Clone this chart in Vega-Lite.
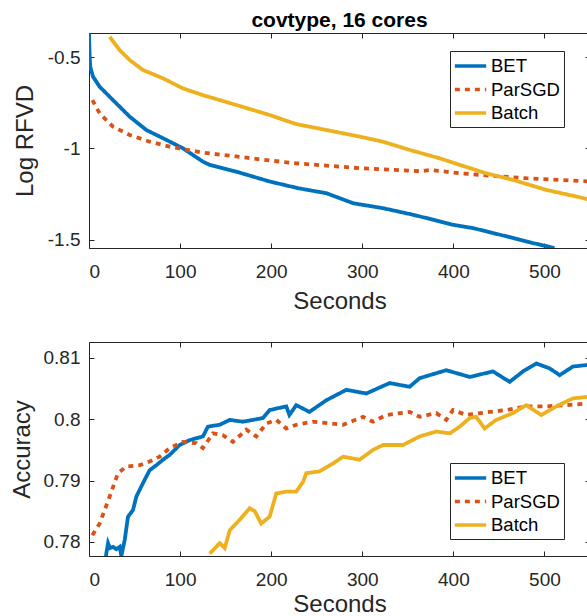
{
  "$schema": "https://vega.github.io/schema/vega-lite/v6.json",
  "padding": {"left": 9, "top": 9, "right": 0, "bottom": 0},
  "bounds": "flush",
  "spacing": 94,
  "config": {
    "font": "Liberation Sans",
    "view": {"stroke": "#262626", "strokeWidth": 1},
    "axis": {
      "grid": false, "domain": false,
      "labelFontSize": 19, "titleFontSize": 24, "titleFontWeight": "normal",
      "labelColor": "#262626", "titleColor": "#262626", "tickColor": "#262626",
      "tickSize": -5, "tickWidth": 1
    },
    "legend": {
      "orient": "none", "title": null,
      "strokeColor": "#262626", "fillColor": "white", "padding": 4,
      "symbolType": "M-1.1,0H2.3", "symbolSize": 340, "symbolStrokeWidth": 3.5,
      "labelFontSize": 18.5, "labelColor": "#000000", "labelOffset": 15, "rowPadding": 2.5
    },
    "title": {"fontSize": 21, "fontWeight": "bold", "color": "#000000", "baseline": "alphabetic", "offset": -0.8}
  },
  "datasets": {
    "top": [
      {"s": "BET", "t": 0, "v": -0.37}, {"s": "BET", "t": 0.3, "v": -0.42}, {"s": "BET", "t": 0.7, "v": -0.49}, {"s": "BET", "t": 1.4, "v": -0.553}, {"s": "BET", "t": 4.4, "v": -0.607}, {"s": "BET", "t": 11.7, "v": -0.662}, {"s": "BET", "t": 26.3, "v": -0.735}, {"s": "BET", "t": 44.7, "v": -0.826}, {"s": "BET", "t": 62.9, "v": -0.899}, {"s": "BET", "t": 81.2, "v": -0.944}, {"s": "BET", "t": 103, "v": -0.999}, {"s": "BET", "t": 125, "v": -1.072}, {"s": "BET", "t": 132.5, "v": -1.09}, {"s": "BET", "t": 161.7, "v": -1.127}, {"s": "BET", "t": 198.3, "v": -1.181}, {"s": "BET", "t": 230, "v": -1.218}, {"s": "BET", "t": 260.5, "v": -1.245}, {"s": "BET", "t": 290, "v": -1.3}, {"s": "BET", "t": 322.7, "v": -1.327}, {"s": "BET", "t": 355.7, "v": -1.363}, {"s": "BET", "t": 377.6, "v": -1.39}, {"s": "BET", "t": 399.6, "v": -1.418}, {"s": "BET", "t": 421.5, "v": -1.436}, {"s": "BET", "t": 443.5, "v": -1.463}, {"s": "BET", "t": 465.4, "v": -1.49}, {"s": "BET", "t": 487.4, "v": -1.518}, {"s": "BET", "t": 511, "v": -1.545},
      {"s": "ParSGD", "t": 3.7, "v": -0.735}, {"s": "ParSGD", "t": 11.7, "v": -0.808}, {"s": "ParSGD", "t": 26.3, "v": -0.881}, {"s": "ParSGD", "t": 44.7, "v": -0.926}, {"s": "ParSGD", "t": 66.6, "v": -0.963}, {"s": "ParSGD", "t": 88.6, "v": -0.99}, {"s": "ParSGD", "t": 125, "v": -1.023}, {"s": "ParSGD", "t": 161.7, "v": -1.044}, {"s": "ParSGD", "t": 198.3, "v": -1.066}, {"s": "ParSGD", "t": 227, "v": -1.081}, {"s": "ParSGD", "t": 260.5, "v": -1.094}, {"s": "ParSGD", "t": 297, "v": -1.108}, {"s": "ParSGD", "t": 333.7, "v": -1.117}, {"s": "ParSGD", "t": 363, "v": -1.125}, {"s": "ParSGD", "t": 375, "v": -1.118}, {"s": "ParSGD", "t": 407, "v": -1.136}, {"s": "ParSGD", "t": 443.5, "v": -1.15}, {"s": "ParSGD", "t": 480, "v": -1.163}, {"s": "ParSGD", "t": 516.7, "v": -1.172}, {"s": "ParSGD", "t": 550, "v": -1.181},
      {"s": "Batch", "t": 22.7, "v": -0.389}, {"s": "Batch", "t": 33.7, "v": -0.462}, {"s": "Batch", "t": 44.7, "v": -0.516}, {"s": "Batch", "t": 59.3, "v": -0.571}, {"s": "Batch", "t": 81.2, "v": -0.616}, {"s": "Batch", "t": 103, "v": -0.671}, {"s": "Batch", "t": 125, "v": -0.708}, {"s": "Batch", "t": 161.7, "v": -0.762}, {"s": "Batch", "t": 198.3, "v": -0.817}, {"s": "Batch", "t": 227, "v": -0.866}, {"s": "Batch", "t": 260.5, "v": -0.899}, {"s": "Batch", "t": 297, "v": -0.935}, {"s": "Batch", "t": 322.7, "v": -0.963}, {"s": "Batch", "t": 352, "v": -1.008}, {"s": "Batch", "t": 385, "v": -1.054}, {"s": "Batch", "t": 407, "v": -1.09}, {"s": "Batch", "t": 436, "v": -1.136}, {"s": "Batch", "t": 465.4, "v": -1.172}, {"s": "Batch", "t": 502, "v": -1.227}, {"s": "Batch", "t": 535, "v": -1.263}, {"s": "Batch", "t": 550, "v": -1.281}
    ],
    "bottom": [
      {"s": "BET", "t": 18, "v": 0.777}, {"s": "BET", "t": 19, "v": 0.7781}, {"s": "BET", "t": 20.9, "v": 0.7798}, {"s": "BET", "t": 23, "v": 0.779}, {"s": "BET", "t": 26.3, "v": 0.7792}, {"s": "BET", "t": 30, "v": 0.7788}, {"s": "BET", "t": 33.7, "v": 0.7792}, {"s": "BET", "t": 35.5, "v": 0.7777}, {"s": "BET", "t": 39.2, "v": 0.7803}, {"s": "BET", "t": 42.8, "v": 0.7841}, {"s": "BET", "t": 48.3, "v": 0.7852}, {"s": "BET", "t": 52, "v": 0.7874}, {"s": "BET", "t": 59.3, "v": 0.7896}, {"s": "BET", "t": 66.6, "v": 0.7917}, {"s": "BET", "t": 73.9, "v": 0.7925}, {"s": "BET", "t": 81.2, "v": 0.7934}, {"s": "BET", "t": 88.6, "v": 0.7942}, {"s": "BET", "t": 99.5, "v": 0.7958}, {"s": "BET", "t": 110.5, "v": 0.7966}, {"s": "BET", "t": 125, "v": 0.7972}, {"s": "BET", "t": 130.6, "v": 0.7988}, {"s": "BET", "t": 143.5, "v": 0.7991}, {"s": "BET", "t": 154.5, "v": 0.7999}, {"s": "BET", "t": 169, "v": 0.7996}, {"s": "BET", "t": 191, "v": 0.8002}, {"s": "BET", "t": 198.3, "v": 0.8015}, {"s": "BET", "t": 216.6, "v": 0.8021}, {"s": "BET", "t": 220, "v": 0.8007}, {"s": "BET", "t": 227.5, "v": 0.8023}, {"s": "BET", "t": 242, "v": 0.8012}, {"s": "BET", "t": 260.5, "v": 0.8031}, {"s": "BET", "t": 282.5, "v": 0.8048}, {"s": "BET", "t": 304.4, "v": 0.8042}, {"s": "BET", "t": 330, "v": 0.8059}, {"s": "BET", "t": 352, "v": 0.8053}, {"s": "BET", "t": 363, "v": 0.8067}, {"s": "BET", "t": 392.2, "v": 0.808}, {"s": "BET", "t": 418, "v": 0.8069}, {"s": "BET", "t": 443.5, "v": 0.8078}, {"s": "BET", "t": 461.8, "v": 0.8061}, {"s": "BET", "t": 476.4, "v": 0.8078}, {"s": "BET", "t": 491, "v": 0.8091}, {"s": "BET", "t": 505.6, "v": 0.8083}, {"s": "BET", "t": 516.7, "v": 0.8072}, {"s": "BET", "t": 531.3, "v": 0.8086}, {"s": "BET", "t": 550, "v": 0.8089},
      {"s": "ParSGD", "t": 3.7, "v": 0.7811}, {"s": "ParSGD", "t": 11.7, "v": 0.783}, {"s": "ParSGD", "t": 22.7, "v": 0.7874}, {"s": "ParSGD", "t": 31.8, "v": 0.7912}, {"s": "ParSGD", "t": 41, "v": 0.7923}, {"s": "ParSGD", "t": 55.7, "v": 0.7925}, {"s": "ParSGD", "t": 66.6, "v": 0.7931}, {"s": "ParSGD", "t": 77.6, "v": 0.7939}, {"s": "ParSGD", "t": 88.6, "v": 0.7953}, {"s": "ParSGD", "t": 103, "v": 0.7963}, {"s": "ParSGD", "t": 117.8, "v": 0.7961}, {"s": "ParSGD", "t": 125, "v": 0.7953}, {"s": "ParSGD", "t": 136, "v": 0.7977}, {"s": "ParSGD", "t": 147, "v": 0.7974}, {"s": "ParSGD", "t": 158, "v": 0.7963}, {"s": "ParSGD", "t": 172.7, "v": 0.7983}, {"s": "ParSGD", "t": 183.6, "v": 0.7972}, {"s": "ParSGD", "t": 194.6, "v": 0.7993}, {"s": "ParSGD", "t": 205.6, "v": 0.7999}, {"s": "ParSGD", "t": 216.6, "v": 0.7985}, {"s": "ParSGD", "t": 227.5, "v": 0.7991}, {"s": "ParSGD", "t": 246, "v": 0.7996}, {"s": "ParSGD", "t": 279, "v": 0.7991}, {"s": "ParSGD", "t": 300.8, "v": 0.8004}, {"s": "ParSGD", "t": 311.7, "v": 0.7996}, {"s": "ParSGD", "t": 326.4, "v": 0.8007}, {"s": "ParSGD", "t": 352, "v": 0.8012}, {"s": "ParSGD", "t": 363, "v": 0.8004}, {"s": "ParSGD", "t": 381.2, "v": 0.801}, {"s": "ParSGD", "t": 392.2, "v": 0.7999}, {"s": "ParSGD", "t": 399.6, "v": 0.8015}, {"s": "ParSGD", "t": 414.2, "v": 0.8007}, {"s": "ParSGD", "t": 439.8, "v": 0.8012}, {"s": "ParSGD", "t": 458, "v": 0.8015}, {"s": "ParSGD", "t": 480, "v": 0.8021}, {"s": "ParSGD", "t": 502, "v": 0.8021}, {"s": "ParSGD", "t": 524, "v": 0.8023}, {"s": "ParSGD", "t": 550, "v": 0.8026},
      {"s": "Batch", "t": 132.5, "v": 0.7781}, {"s": "Batch", "t": 143.5, "v": 0.7798}, {"s": "Batch", "t": 149, "v": 0.779}, {"s": "Batch", "t": 154.5, "v": 0.7819}, {"s": "Batch", "t": 165.4, "v": 0.7836}, {"s": "Batch", "t": 176.4, "v": 0.7855}, {"s": "Batch", "t": 182, "v": 0.785}, {"s": "Batch", "t": 189, "v": 0.783}, {"s": "Batch", "t": 198.3, "v": 0.7841}, {"s": "Batch", "t": 205.6, "v": 0.7879}, {"s": "Batch", "t": 216.6, "v": 0.7882}, {"s": "Batch", "t": 227.5, "v": 0.7882}, {"s": "Batch", "t": 235, "v": 0.7898}, {"s": "Batch", "t": 238.5, "v": 0.7912}, {"s": "Batch", "t": 253, "v": 0.7915}, {"s": "Batch", "t": 268, "v": 0.7928}, {"s": "Batch", "t": 279, "v": 0.7939}, {"s": "Batch", "t": 297, "v": 0.7934}, {"s": "Batch", "t": 311.7, "v": 0.795}, {"s": "Batch", "t": 322.7, "v": 0.7958}, {"s": "Batch", "t": 344.7, "v": 0.7958}, {"s": "Batch", "t": 363, "v": 0.7972}, {"s": "Batch", "t": 381.2, "v": 0.798}, {"s": "Batch", "t": 396, "v": 0.7977}, {"s": "Batch", "t": 407, "v": 0.7988}, {"s": "Batch", "t": 418, "v": 0.8002}, {"s": "Batch", "t": 425, "v": 0.8004}, {"s": "Batch", "t": 434.3, "v": 0.7985}, {"s": "Batch", "t": 447, "v": 0.7999}, {"s": "Batch", "t": 465.4, "v": 0.801}, {"s": "Batch", "t": 480, "v": 0.8023}, {"s": "Batch", "t": 496.5, "v": 0.8007}, {"s": "Batch", "t": 512.9, "v": 0.8021}, {"s": "Batch", "t": 531.3, "v": 0.8034}, {"s": "Batch", "t": 550, "v": 0.8037}
    ]
  },
  "vconcat": [
    {
      "width": 501, "height": 215,
      "title": {"text": "covtype, 16 cores"},
      "data": {"name": "top"},
      "layer": [
        {
          "mark": {"type": "line", "clip": true, "strokeWidth": 3.8, "strokeCap": "butt"},
          "encoding": {
            "x": {"field": "t", "type": "quantitative", "scale": {"domain": [0, 550], "nice": false},
                  "axis": {"orient": "bottom", "values": [0, 100, 200, 300, 400, 500], "labelExpr": "toString(datum.value)", "labelPadding": 19, "title": "Seconds", "titleBaseline": "alphabetic", "titleY": 60}},
            "y": {"field": "v", "type": "quantitative", "scale": {"domain": [-1.545, -0.368], "nice": false, "zero": false},
                  "axis": {"orient": "left", "values": [-1.5, -1, -0.5], "labelExpr": "toString(datum.value)", "labelPadding": 14, "title": "Log RFVD", "titleBaseline": "alphabetic", "titleX": -57}},
            "color": {"field": "s", "type": "nominal", "scale": {"domain": ["BET", "ParSGD", "Batch"], "range": ["#0072BD", "#D95319", "#EDB120"]},
                      "legend": {"legendX": 361, "legendY": 18}},
            "strokeDash": {"field": "s", "type": "nominal", "scale": {"domain": ["BET", "ParSGD", "Batch"], "range": [[1, 0], [5, 5], [1, 0]]},
                      "legend": {"legendX": 361, "legendY": 18}},
            "order": {"field": "t", "type": "quantitative"}
          }
        },
        {
          "mark": {"type": "point", "opacity": 0},
          "encoding": {
            "x": {"field": "t", "type": "quantitative", "axis": {"orient": "top", "values": [0, 100, 200, 300, 400, 500], "labels": false, "title": null}},
            "y": {"field": "v", "type": "quantitative", "axis": {"orient": "right", "values": [-1.5, -1, -0.5], "labels": false, "title": null}}
          }
        }
      ],
      "resolve": {"axis": {"x": "independent", "y": "independent"}}
    },
    {
      "width": 501, "height": 214,
      "data": {"name": "bottom"},
      "layer": [
        {
          "mark": {"type": "line", "clip": true, "strokeWidth": 3.8, "strokeCap": "butt"},
          "encoding": {
            "x": {"field": "t", "type": "quantitative", "scale": {"domain": [0, 550], "nice": false},
                  "axis": {"orient": "bottom", "values": [0, 100, 200, 300, 400, 500], "labelExpr": "toString(datum.value)", "labelPadding": 19, "title": "Seconds", "titleBaseline": "alphabetic", "titleY": 55}},
            "y": {"field": "v", "type": "quantitative", "scale": {"domain": [0.7777, 0.8126], "nice": false, "zero": false},
                  "axis": {"orient": "left", "values": [0.78, 0.79, 0.8, 0.81], "labelExpr": "toString(datum.value)", "labelPadding": 14, "title": "Accuracy", "titleBaseline": "alphabetic", "titleX": -60}},
            "color": {"field": "s", "type": "nominal", "scale": {"domain": ["BET", "ParSGD", "Batch"], "range": ["#0072BD", "#D95319", "#EDB120"]},
                      "legend": {"legendX": 361, "legendY": 121}},
            "strokeDash": {"field": "s", "type": "nominal", "scale": {"domain": ["BET", "ParSGD", "Batch"], "range": [[1, 0], [5, 5], [1, 0]]},
                      "legend": {"legendX": 361, "legendY": 121}},
            "order": {"field": "t", "type": "quantitative"}
          }
        },
        {
          "mark": {"type": "point", "opacity": 0},
          "encoding": {
            "x": {"field": "t", "type": "quantitative", "axis": {"orient": "top", "values": [0, 100, 200, 300, 400, 500], "labels": false, "title": null}},
            "y": {"field": "v", "type": "quantitative", "axis": {"orient": "right", "values": [0.78, 0.79, 0.8, 0.81], "labels": false, "title": null}}
          }
        }
      ],
      "resolve": {"axis": {"x": "independent", "y": "independent"}}
    }
  ],
  "resolve": {"scale": {"color": "independent", "strokeDash": "independent", "y": "independent"}, "legend": {"color": "independent", "strokeDash": "independent"}}
}
